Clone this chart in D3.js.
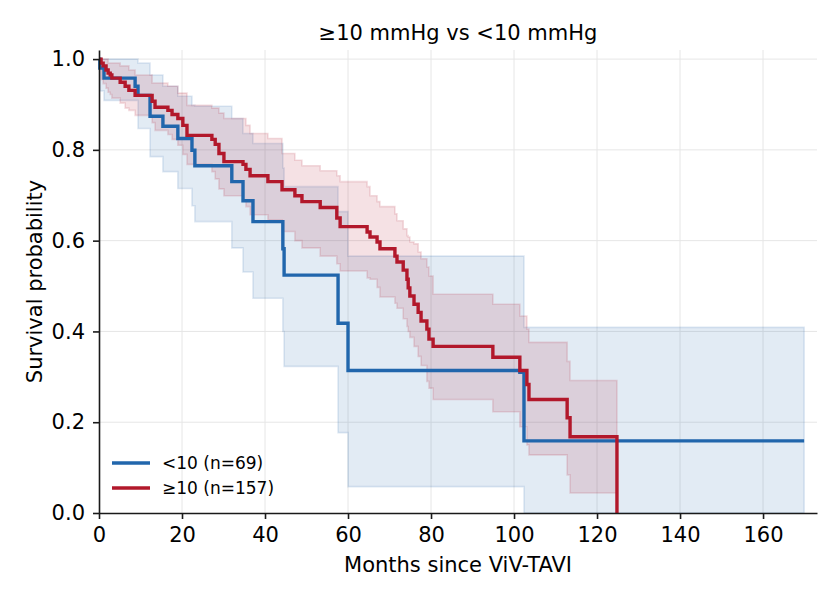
<!DOCTYPE html>
<html>
<head>
<meta charset="utf-8">
<script src="https://cdn.jsdelivr.net/npm/d3@7/dist/d3.min.js"></script>
<style>
  body { margin: 0; background: #fff; }
  svg text { font-family: 'DejaVu Sans', sans-serif; fill: #000; }
  .domain { stroke: #1a1a1a; stroke-width: 1.6; }
  .tick line { stroke: #1a1a1a; stroke-width: 1.6; }
  .grid line { stroke: #e6e6e6; stroke-width: 1; }
</style>
</head>
<body>
<svg id="chart" width="840" height="600"></svg>
<script>
// <10 mmHg group (n=69): KM estimate and 95% CI
const LOW_TIMES = [0, 0.2, 1.2, 8.7, 9.4, 12.3, 15.4, 19.0, 22.4, 23.1, 32.0, 34.7, 37.1, 44.3, 44.6, 57.6, 60.0, 101.4, 102.4, 169.9];
const LOW_SURV = [1, 0.980, 0.958, 0.940, 0.920, 0.874, 0.852, 0.825, 0.799, 0.765, 0.730, 0.688, 0.642, 0.582, 0.524, 0.418, 0.314, 0.310, 0.159, 0.159];
const LOW_UPPER = [1, 1, 1, 1, 0.991, 0.965, 0.940, 0.918, 0.898, 0.896, 0.869, 0.836, 0.814, 0.760, 0.719, 0.664, 0.566, 0.566, 0.409, 0.409];
const LOW_LOWER = [1, 0.930, 0.909, 0.909, 0.847, 0.785, 0.752, 0.715, 0.677, 0.642, 0.584, 0.531, 0.473, 0.400, 0.323, 0.177, 0.058, 0.058, 0, 0];

// >=10 mmHg group (n=157)
const HIGH_TIMES = [0, 0.5, 1.0, 1.7, 2.2, 2.7, 3.1, 5.1, 6.3, 7.2, 8.7, 12.8, 13.5, 16.6, 17.6, 19.0, 20.2, 21.2,
  27.2, 28.0, 28.9, 30.1, 34.7, 35.4, 36.4, 40.7, 44.1, 47.2, 48.9, 53.3, 57.3, 58.1, 64.6, 65.3, 67.0, 67.7,
  71.3, 71.8, 73.3, 74.2, 74.5, 74.9, 75.9, 76.9, 77.6, 79.0, 79.5, 80.5, 94.9, 101.4, 103.1, 103.6, 112.8, 113.5, 124.8];
const HIGH_SURV = [1, 0.991, 0.985, 0.976, 0.969, 0.965, 0.958, 0.949, 0.940, 0.931, 0.920, 0.907, 0.894, 0.887, 0.878, 0.869, 0.854, 0.832,
  0.823, 0.812, 0.792, 0.774, 0.768, 0.757, 0.743, 0.730, 0.712, 0.699, 0.686, 0.673, 0.650, 0.631, 0.619, 0.608, 0.597, 0.582,
  0.566, 0.553, 0.535, 0.515, 0.496, 0.478, 0.460, 0.442, 0.423, 0.405, 0.383, 0.367, 0.343, 0.314, 0.283, 0.250, 0.210, 0.168, 0];
const HIGH_UPPER = [1, 1, 1, 1, 0.991, 0.991, 0.991, 0.985, 0.985, 0.976, 0.965, 0.947, 0.947, 0.940, 0.940, 0.925, 0.925, 0.898,
  0.892, 0.892, 0.881, 0.869, 0.869, 0.854, 0.836, 0.825, 0.792, 0.777, 0.765, 0.754, 0.743, 0.730, 0.719, 0.699, 0.686, 0.675,
  0.659, 0.644, 0.626, 0.611, 0.608, 0.597, 0.593, 0.575, 0.560, 0.542, 0.522, 0.482, 0.460, 0.434, 0.405, 0.376, 0.334, 0.292, 0.292];
const HIGH_LOWER = [1, 0.955, 0.946, 0.936, 0.927, 0.922, 0.914, 0.903, 0.892, 0.887, 0.876, 0.860, 0.843, 0.834, 0.823, 0.810, 0.790, 0.768,
  0.752, 0.736, 0.714, 0.699, 0.690, 0.675, 0.657, 0.646, 0.620, 0.600, 0.584, 0.566, 0.549, 0.533, 0.518, 0.515, 0.497, 0.476,
  0.462, 0.451, 0.428, 0.411, 0.400, 0.387, 0.367, 0.345, 0.325, 0.290, 0.275, 0.250, 0.223, 0.190, 0.150, 0.128, 0.084, 0.044, 0.044];

const X_TICKS = [0, 20, 40, 60, 80, 100, 120, 140, 160];
const Y_TICKS = [0, 0.2, 0.4, 0.6, 0.8, 1.0];

const TITLE = '≥10 mmHg vs <10 mmHg';
const X_LABEL = 'Months since ViV-TAVI';
const Y_LABEL = 'Survival probability';

const groups = [
  { name: '<10 (n=69)', color: '#2166ac', times: LOW_TIMES, surv: LOW_SURV, upper: LOW_UPPER, lower: LOW_LOWER },
  { name: '≥10 (n=157)', color: '#b2182b', times: HIGH_TIMES, surv: HIGH_SURV, upper: HIGH_UPPER, lower: HIGH_LOWER }
];

const size = { left: 99, right: 817, top: 50, bottom: 513 };
const fontSize = 21;

const svg = d3.select('#chart');

const xScale = d3.scaleLinear()
  .domain([0, 173])
  .range([size.left, size.right]);

const yScale = d3.scaleLinear()
  .domain([0, 1.02])
  .range([size.bottom, size.top]);

// grid
const grid = svg.append('g').attr('class', 'grid');
grid.selectAll('.gx')
  .data(X_TICKS.filter((d) => { return d > 0; }))
  .enter()
  .append('line')
    .attr('x1', (d) => { return xScale(d); })
    .attr('x2', (d) => { return xScale(d); })
    .attr('y1', size.top)
    .attr('y2', size.bottom);
grid.selectAll('.gy')
  .data(Y_TICKS.filter((d) => { return d > 0; }))
  .enter()
  .append('line')
    .attr('x1', size.left)
    .attr('x2', size.right)
    .attr('y1', (d) => { return yScale(d); })
    .attr('y2', (d) => { return yScale(d); });

const rows = (g) => {
  return g.times.map((t, i) => {
    return { t: t, s: g.surv[i], hi: g.upper[i], lo: g.lower[i] };
  });
};

const band = d3.area()
  .curve(d3.curveStepAfter)
  .x((d) => { return xScale(d.t); })
  .y0((d) => { return yScale(d.lo); })
  .y1((d) => { return yScale(d.hi); });

const line = d3.line()
  .curve(d3.curveStepAfter)
  .x((d) => { return xScale(d.t); })
  .y((d) => { return yScale(d.s); });

svg.append('g').attr('class', 'g-bands')
  .selectAll('path')
  .data(groups)
  .enter()
  .append('path')
    .attr('d', (d) => { return band(rows(d)); })
    .attr('fill', (d) => { return d.color; })
    .attr('fill-opacity', 0.13)
    .attr('stroke', (d) => { return d.color; })
    .attr('stroke-opacity', 0.14)
    .attr('stroke-width', 1.6);

svg.append('g').attr('class', 'g-lines')
  .selectAll('path')
  .data(groups)
  .enter()
  .append('path')
    .attr('d', (d) => { return line(rows(d)); })
    .attr('fill', 'none')
    .attr('stroke', (d) => { return d.color; })
    .attr('stroke-width', 3.4);

// axes
svg.append('g')
  .attr('transform', `translate(0, ${ size.bottom })`)
  .call(d3.axisBottom(xScale)
    .tickValues(X_TICKS)
    .tickFormat(d3.format('d'))
    .tickSize(6)
    .tickPadding(8)
    .tickSizeOuter(0))
  .call((g) => { g.selectAll('text').attr('font-size', fontSize).attr('font-family', null); });

svg.append('g')
  .attr('transform', `translate(${ size.left }, 0)`)
  .call(d3.axisLeft(yScale)
    .tickValues(Y_TICKS)
    .tickFormat(d3.format('.1f'))
    .tickSize(6)
    .tickPadding(8)
    .tickSizeOuter(0))
  .call((g) => { g.selectAll('text').attr('font-size', fontSize).attr('font-family', null); });

// labels
svg.append('text')
  .attr('x', (size.left + size.right) / 2)
  .attr('y', 40)
  .attr('text-anchor', 'middle')
  .attr('font-size', fontSize)
  .text(TITLE);

svg.append('text')
  .attr('x', (size.left + size.right) / 2)
  .attr('y', 572)
  .attr('text-anchor', 'middle')
  .attr('font-size', fontSize)
  .text(X_LABEL);

svg.append('text')
  .attr('transform', `translate(42, ${ (size.top + size.bottom) / 2 }) rotate(-90)`)
  .attr('text-anchor', 'middle')
  .attr('font-size', fontSize)
  .text(Y_LABEL);

// legend
const legend = svg.append('g').attr('class', 'g-legend')
  .selectAll('g')
  .data(groups)
  .enter()
  .append('g')
    .attr('transform', (d, i) => { return `translate(112, ${ 463 + i * 25 })`; });

legend.append('line')
  .attr('x1', 0)
  .attr('x2', 38)
  .attr('stroke', (d) => { return d.color; })
  .attr('stroke-width', 3.4);

legend.append('text')
  .attr('x', 50)
  .attr('dy', '0.35em')
  .attr('font-size', 17)
  .text((d) => { return d.name; });
</script>
</body>
</html>
